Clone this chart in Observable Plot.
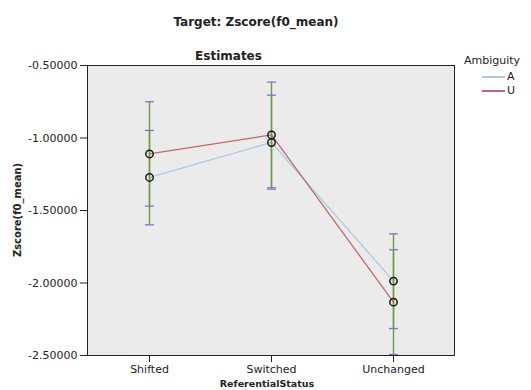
<!DOCTYPE html>
<html>
<head>
<meta charset="utf-8">
<script src="https://cdn.jsdelivr.net/npm/d3@7"></script>
<script src="https://cdn.jsdelivr.net/npm/@observablehq/plot@0.6"></script>
<style>
  html, body { margin: 0; padding: 0; background: #ffffff; }
  #wrap { position: relative; width: 531px; height: 390px; font-family: "DejaVu Sans", sans-serif; color: #222; }
  #wrap svg { position: absolute; left: 0; top: 0; }
  .t { position: absolute; white-space: nowrap; line-height: 14px; }
</style>
</head>
<body>
<div id="wrap"></div>
<script>
const categories = ["Shifted", "Switched", "Unchanged"];
const seriesNames = ["A", "U"];
const meanA = [-1.272, -1.031, -1.987];
const lowA  = [-1.599, -1.353, -2.314];
const highA = [-0.948, -0.705, -1.661];
const meanU = [-1.110, -0.979, -2.132];
const lowU  = [-1.470, -1.343, -2.493];
const highU = [-0.750, -0.615, -1.771];
const yTicks = [-0.5, -1.0, -1.5, -2.0, -2.5];
const seriesColors = ["#a9cce0", "#c06a6c"];

const rows = [];
categories.forEach((c, i) => {
  rows.push({cat: c, series: "A", mean: meanA[i], low: lowA[i], high: highA[i]});
  rows.push({cat: c, series: "U", mean: meanU[i], low: lowU[i], high: highU[i]});
});

const capSymbol = {
  draw(ctx, size) {
    const w = Math.sqrt(size / Math.PI);
    ctx.moveTo(-w, 0);
    ctx.lineTo(w, 0);
  }
};

const chart = Plot.plot({
  width: 531,
  height: 390,
  marginLeft: 87,
  marginRight: 77,
  marginTop: 65,
  marginBottom: 35,
  style: {fontFamily: "DejaVu Sans", fontSize: "11px", background: "transparent", color: "#222"},
  x: {type: "point", domain: categories, padding: 0.5, label: null, tickSize: 7, tickPadding: 3},
  y: {domain: [-2.5, -0.5], ticks: yTicks, tickFormat: d => d.toFixed(5), label: null, tickSize: 7, tickPadding: 3},
  color: {domain: seriesNames, range: seriesColors},
  marks: [
    Plot.frame({fill: "#ebebeb", stroke: "none"}),
    Plot.line(rows, {x: "cat", y: "mean", z: "series", stroke: "series", strokeWidth: 1.3}),
    Plot.ruleX(rows, {x: "cat", y1: "low", y2: "high", stroke: "#6a9a42", strokeWidth: 1.4}),
    Plot.dot(rows, {x: "cat", y: "low", symbol: capSymbol, r: 4.5, stroke: "#8473c4", strokeWidth: 1.3, fill: "none"}),
    Plot.dot(rows, {x: "cat", y: "high", symbol: capSymbol, r: 4.5, stroke: "#8473c4", strokeWidth: 1.3, fill: "none"}),
    Plot.dot(rows, {x: "cat", y: "mean", r: 3.7, stroke: "#1a1a1a", strokeWidth: 1.5, fill: "none"}),
    Plot.frame({stroke: "#222", strokeWidth: 1})
  ]
});

const wrap = document.getElementById("wrap");
wrap.appendChild(chart);

function addText(txt, css) {
  const d = document.createElement("div");
  d.className = "t";
  d.textContent = txt;
  Object.assign(d.style, css);
  wrap.appendChild(d);
  return d;
}

addText("Target: Zscore(f0_mean)", {left: "0px", width: "512px", textAlign: "center", top: "15px", fontSize: "12px", fontWeight: "bold"});
addText("Estimates", {left: "0px", width: "457px", textAlign: "center", top: "49px", fontSize: "12px", fontWeight: "bold"});
addText("ReferentialStatus", {left: "0px", width: "534px", textAlign: "center", top: "377px", fontSize: "9.5px", fontWeight: "bold"});
addText("Zscore(f0_mean)", {left: "18px", top: "210px", fontSize: "10px", fontWeight: "bold", transform: "translate(-50%, -50%) rotate(-90deg)", transformOrigin: "center"});

// legend
addText("Ambiguity", {left: "464px", top: "54px", fontSize: "11px"});
seriesNames.forEach((s, i) => {
  const y = 77 + i * 14;
  const line = document.createElement("div");
  Object.assign(line.style, {position: "absolute", left: "482px", top: (y - 1) + "px", width: "23px", height: "2px", background: seriesColors[i]});
  wrap.appendChild(line);
  addText(s, {left: "507px", top: (y - 7) + "px", fontSize: "11px"});
});
</script>
</body>
</html>
